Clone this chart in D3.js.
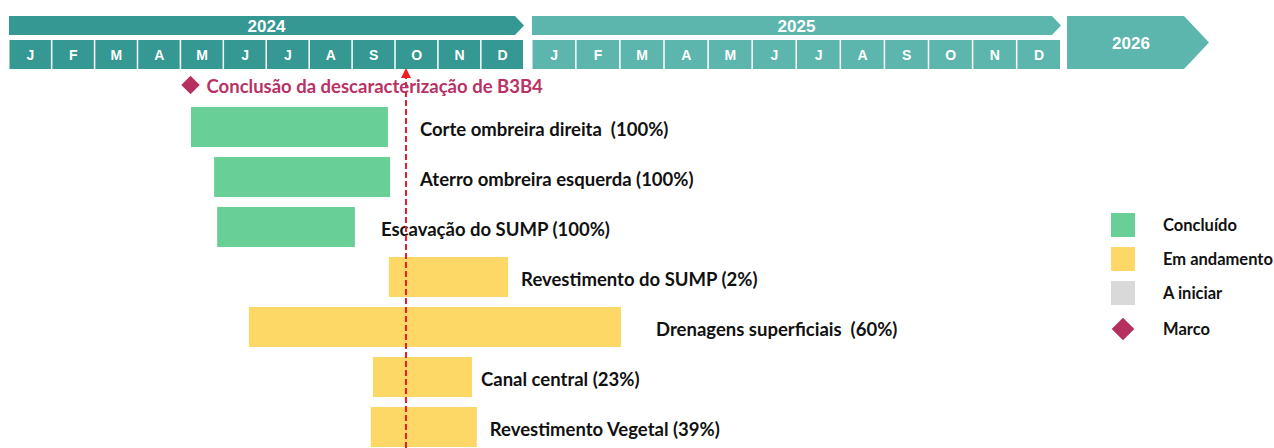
<!DOCTYPE html>
<html><head><meta charset="utf-8">
<script src="https://cdn.jsdelivr.net/npm/d3@7"></script>
<style>body{margin:0;background:#fff}svg{display:block}text{white-space:pre}</style>
</head><body>
<script>
// ---- data ----
const years = ["2024", "2025"];
const nextYear = "2026";
const monthLabels = ["J","F","M","A","M","J","J","A","S","O","N","D"];
const tasks = ["Corte ombreira direita  (100%)","Aterro ombreira esquerda (100%)","Escavação do SUMP (100%)","Revestimento do SUMP (2%)","Drenagens superficiais  (60%)","Canal central (23%)","Revestimento Vegetal (39%)"];
const taskStart = [4.24, 4.78, 4.85, 8.85, 5.59, 8.48, 8.43];   // months from Jan 2024
const taskEnd   = [8.83, 8.88, 8.06, 11.63, 14.02, 10.79, 10.90];
const taskStatus = ["Concluído","Concluído","Concluído","Em andamento","Em andamento","Em andamento","Em andamento"];
const legendItems = ["Concluído","Em andamento","A iniciar","Marco"];
const milestoneLabel = "Conclusão da descaracterização de B3B4";
const milestoneMonth = 4.23;
const todayMonth = 9.25;

// ---- layout / style ----
const W = 1274, H = 448;
const labelOffsets = [32, 30, 26, 13, 35, 9, 13];
const statusColor = d3.scaleOrdinal().domain(legendItems).range(["#68d096","#fdd866","#d9d9d9","#b5305f"]);
const yearColors = ["#359892","#5db6ae"];
const labelFont = "bold 18.5px Lato, 'Noto Sans', sans-serif";

const svg = d3.select("body").append("svg").attr("width", W).attr("height", H);

// piecewise x: one linear scale per year
const yearScales = [
  d3.scaleLinear().domain([0,12]).range([9,524]),
  d3.scaleLinear().domain([12,24]).range([532,1061])
];
const x = m => (m < 12 ? yearScales[0] : yearScales[1])(m);

// year banners
years.forEach((yr, i) => {
  const s = yearScales[i];
  const x0 = s(s.domain()[0]), x1 = s(s.domain()[1]);
  const y0 = 16, y1 = 35, ym = (y0+y1)/2;
  svg.append("path")
    .attr("d", `M${x0},${y0}L${x1-9},${y0}L${x1},${ym}L${x1-9},${y1}L${x0},${y1}Z`)
    .attr("fill", yearColors[i]);
  svg.append("text").attr("x", (x0+x1)/2).attr("y", ym).attr("dy","0.36em")
    .attr("text-anchor","middle").attr("fill","#fff")
    .style("font", "bold 17px 'Liberation Sans', Arial, sans-serif").text(yr);
  monthLabels.forEach((ml, j) => {
    const m = s.domain()[0] + j;
    const a = s(m), b = s(m+1);
    svg.append("rect").attr("x", a+0.5).attr("y", 40).attr("width", b-a-1.5).attr("height", 29)
      .attr("fill", yearColors[i]);
    svg.append("text").attr("x",(a+b)/2).attr("y",55).attr("dy","0.36em")
      .attr("text-anchor","middle").attr("fill","#fff")
      .style("font","bold 14px 'Liberation Sans', Arial, sans-serif").text(ml);
  });
});
// 2026 block
{
  const x0 = 1067, x1 = 1209, y0 = 16, y1 = 69, ym = (y0+y1)/2;
  svg.append("path").attr("d", `M${x0},${y0}L${x1-25},${y0}L${x1},${ym}L${x1-25},${y1}L${x0},${y1}Z`)
    .attr("fill", yearColors[1]);
  svg.append("text").attr("x", 1131).attr("y", ym).attr("dy","0.36em").attr("text-anchor","middle")
    .attr("fill","#fff").style("font","bold 17px 'Liberation Sans', Arial, sans-serif").text(nextYear);
}

// rows
const y = d3.scaleBand().domain(tasks).range([102, 452]).paddingInner(0.2).paddingOuter(0.1);

svg.append("g").selectAll("rect").data(tasks).join("rect")
  .attr("x", (d,i) => x(taskStart[i]))
  .attr("width", (d,i) => x(taskEnd[i]) - x(taskStart[i]))
  .attr("y", d => y(d)).attr("height", y.bandwidth())
  .attr("fill", (d,i) => statusColor(taskStatus[i]));

svg.append("g").selectAll("text").data(tasks).join("text")
  .attr("x", (d,i) => x(taskEnd[i]) + labelOffsets[i])
  .attr("y", d => y(d) + y.bandwidth()/2 + 2).attr("dy","0.36em")
  .attr("fill","#111")
  .style("font", labelFont)
  .text(d => d);

// today line
const defs = svg.append("defs");
defs.append("marker").attr("id","arr").attr("viewBox","0 0 10 10").attr("refX",2).attr("refY",5)
  .attr("markerWidth",5).attr("markerHeight",5).attr("orient","auto-start-reverse")
  .append("path").attr("d","M0,0L10,5L0,10Z").attr("fill","#ee1c25");
svg.append("line").attr("x1", x(todayMonth)).attr("x2", x(todayMonth))
  .attr("y1", H).attr("y2", 76)
  .attr("stroke","#ee1c25").attr("stroke-width",2).attr("stroke-dasharray","6,3")
  .attr("marker-end","url(#arr)");

// milestone
const ms = svg.append("g").attr("transform", `translate(${x(milestoneMonth)},85)`);
ms.append("rect").attr("x",-6.5).attr("y",-6.5).attr("width",13).attr("height",13)
  .attr("transform","rotate(45)").attr("fill", statusColor("Marco"));
svg.append("text").attr("x", x(milestoneMonth)+16).attr("y",86).attr("dy","0.36em")
  .attr("fill","#b83265").style("font", labelFont).text(milestoneLabel);

// legend
const lg = svg.append("g").attr("transform","translate(1111,213)");
legendItems.forEach((d,i) => {
  const g = lg.append("g").attr("transform", `translate(0,${i*34})`);
  if (d === "Marco") {
    g.append("rect").attr("x",-8).attr("y",-8).attr("width",16).attr("height",16)
      .attr("transform","translate(12,14) rotate(45)").attr("fill", statusColor(d));
  } else {
    g.append("rect").attr("width",24).attr("height",24).attr("fill", statusColor(d));
  }
  g.append("text").attr("x",52).attr("y", d==="Marco"?14:12).attr("dy","0.36em")
    .attr("fill","#111").style("font","bold 16.5px Lato, 'Noto Sans', sans-serif").text(d);
});
</script>
</body></html>
